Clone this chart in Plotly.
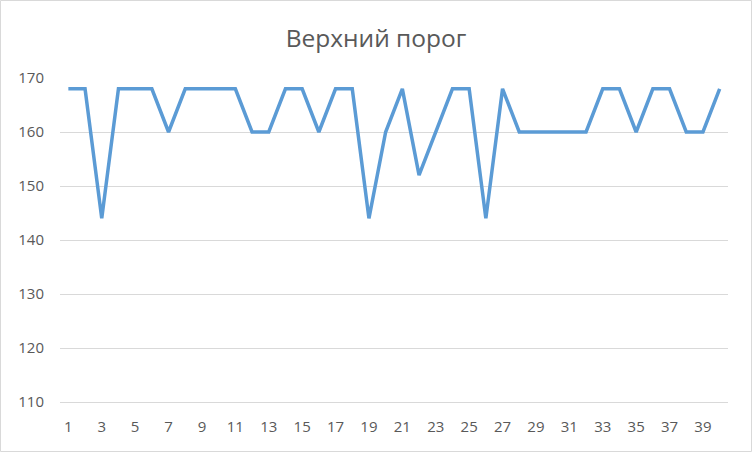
import plotly.graph_objects as go

categories = list(range(1, 41))
values = [168, 168, 144, 168, 168, 168, 160, 168, 168, 168,
          168, 160, 160, 168, 168, 160, 168, 168, 144, 160,
          168, 152, 160, 168, 168, 144, 168, 160, 160, 160,
          160, 160, 168, 168, 160, 168, 168, 160, 160, 168]
x_tick_labels = [str(c) for c in categories if c % 2 == 1]
y_ticks = [110, 120, 130, 140, 150, 160, 170]
title_text = "Верхний порог"

W, H = 752, 452
L, R, T, B = 60, 24, 78, 50
pw, ph = W - L - R, H - T - B

font_family = "Open Sans, Liberation Sans, Arial, sans-serif"

fig = go.Figure()
fig.add_trace(go.Scatter(
    x=categories, y=values, mode="lines",
    line=dict(color="#5b9bd5", width=3.5),
    hoverinfo="x+y", showlegend=False,
))

fig.update_layout(
    width=W, height=H,
    margin=dict(l=L, r=R, t=T, b=B, pad=0),
    paper_bgcolor="white", plot_bgcolor="white",
    title=dict(text=title_text, x=0.5, xanchor="center", y=1 - 38 / H, yanchor="middle",
               font=dict(family=font_family, size=24.5, color="#595959")),
    xaxis=dict(
        range=[0.5, 40.5], tickmode="array",
        tickvals=[c for c in categories if c % 2 == 1], ticktext=x_tick_labels,
        showgrid=False, zeroline=False, showline=True, linecolor="#d9d9d9", linewidth=1,
        ticks="", ticklabelstandoff=11,
        tickfont=dict(family=font_family, size=15, color="#595959"),
    ),
    yaxis=dict(
        range=[110, 170], tickmode="array", tickvals=y_ticks,
        showgrid=True, gridcolor="#d9d9d9", gridwidth=1, zeroline=False,
        ticks="", ticklabelstandoff=15,
        tickfont=dict(family=font_family, size=15, color="#595959"),
    ),
    shapes=[dict(
        type="rect", xref="paper", yref="paper",
        x0=(0.5 - L) / pw, x1=(W - 0.5 - L) / pw,
        y0=(H - B - (H - 0.5)) / ph, y1=(H - B - 0.5) / ph,
        line=dict(color="#d9d9d9", width=1), fillcolor="rgba(0,0,0,0)", layer="below",
    )],
)

fig.write_html(
    "out.html",
    config={"displayModeBar": False},
    post_script="document.body.style.margin='0';document.body.style.padding='0';document.body.style.overflow='hidden';",
)
